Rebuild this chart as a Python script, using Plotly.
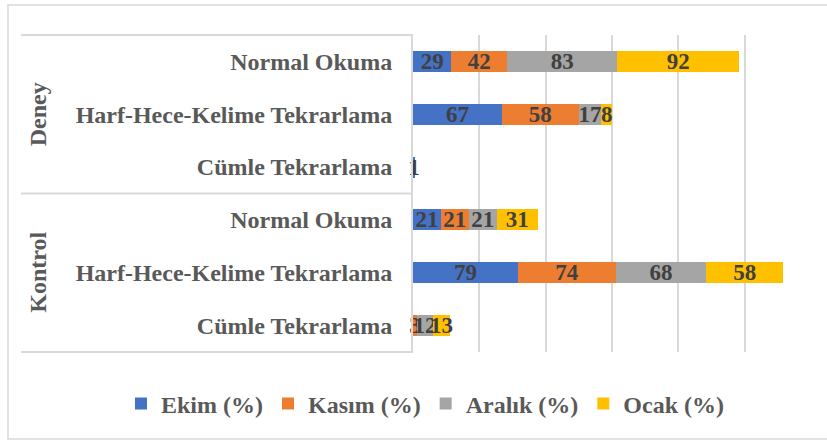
import plotly.graph_objects as go

# ---- data ----
group_names = ["Deney", "Kontrol"]
groups = ["Deney", "Deney", "Deney", "Kontrol", "Kontrol", "Kontrol"]
activities = ["Normal Okuma", "Harf-Hece-Kelime Tekrarlama", "Cümle Tekrarlama",
              "Normal Okuma", "Harf-Hece-Kelime Tekrarlama", "Cümle Tekrarlama"]
ekim = [29, 67, 1, 21, 79, 0]
kasim = [42, 58, 0, 21, 74, 3]
aralik = [83, 17, 0, 21, 68, 12]
ocak = [92, 8, 0, 31, 58, 13]
series_names = ["Ekim (%)", "Kasım (%)", "Aralık (%)", "Ocak (%)"]
series_values = [ekim, kasim, aralik, ocak]
series_colors = ["#4472C4", "#ED7D31", "#A5A5A5", "#FFC000"]
x_ticks = [0, 50, 100, 150, 200, 250, 300]

keys = [f"{g}|{a}" for g, a in zip(groups, activities)]

FONT = "Liberation Serif"
W, H = 827, 441
ML, MR, MT, MB = 413, 16, 35, 89
PW = W - ML - MR
PH = H - MT - MB

def px_x(px):
    return (px - ML) / PW

def px_y(py):
    return (H - MB - py) / PH

fig = go.Figure()
for name, vals, col in zip(series_names, series_values, series_colors):
    fig.add_trace(go.Bar(
        y=keys, x=vals, name=name, orientation="h",
        marker=dict(color=col, line=dict(width=0)),
        width=0.4,
        text=[str(v) for v in vals],
        textposition="inside", insidetextanchor="middle", textangle=0,
        constraintext="none", cliponaxis=False,
        textfont=dict(family=FONT, size=23, color="#404040", weight="bold"),
    ))

shapes = []
# horizontal dividers of the category axis
for yy in [1, 0.5, 0]:
    shapes.append(dict(type="line", xref="paper", yref="paper",
                       x0=px_x(21), x1=0, y0=yy, y1=yy,
                       line=dict(color="#D9D9D9", width=2), layer="below"))
# chart frame
shapes.append(dict(type="rect", xref="paper", yref="paper",
                   x0=px_x(8), x1=px_x(840), y0=px_y(439), y1=px_y(5),
                   line=dict(color="#D9D9D9", width=1.5), layer="below"))

annotations = []
for g, yc in zip(group_names, [0.75, 0.25]):
    annotations.append(dict(text=g, xref="paper", yref="paper",
                            x=px_x(38), y=yc, showarrow=False, textangle=-90,
                            xanchor="center", yanchor="middle",
                            font=dict(family=FONT, size=24, color="#595959", weight="bold")))

fig.update_layout(
    width=W, height=H,
    margin=dict(l=ML, r=MR, t=MT, b=MB, pad=0),
    barmode="stack",
    paper_bgcolor="white", plot_bgcolor="white",
    uniformtext=dict(minsize=23, mode="show"),
    showlegend=True,
    legend=dict(orientation="h", xref="paper", yref="paper",
                x=px_x(121), y=px_y(404), xanchor="left", yanchor="middle",
                bgcolor="rgba(0,0,0,0)",
                font=dict(family=FONT, size=24, color="#595959", weight="bold"),
                itemwidth=30, traceorder="normal"),
    shapes=shapes,
    annotations=annotations,
    xaxis=dict(range=[0, 300], tickvals=x_ticks, showticklabels=False,
               showgrid=True, gridcolor="#D9D9D9", gridwidth=2,
               zeroline=False, showline=False, fixedrange=True),
    yaxis=dict(type="category", categoryorder="array", categoryarray=keys,
               autorange="reversed", tickvals=keys, ticktext=activities,
               showgrid=False, showline=True, linecolor="#D9D9D9", linewidth=2,
               ticks="", ticklabelstandoff=14,
               tickfont=dict(family=FONT, size=24, color="#595959", weight="bold")),
)

fig.write_html("out.html", config={"displayModeBar": False},
               post_script="document.body.style.margin='0';document.body.style.overflow='hidden';")
